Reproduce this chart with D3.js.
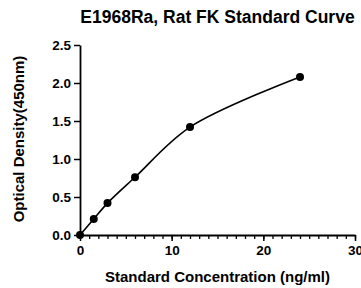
<!DOCTYPE html>
<html>
<head>
<meta charset="utf-8">
<script src="https://cdn.jsdelivr.net/npm/d3@7"></script>
<style>
  body { margin: 0; background: #fff; }
  text { font-family: "Liberation Sans", Arial, sans-serif; font-weight: bold; fill: #000; }
</style>
</head>
<body>
<svg id="chart" width="361" height="288"></svg>
<script>
// Standard curve readings
const concentrations = [0, 1.5, 3, 6, 12, 24];
const densities = [0, 0.21, 0.42, 0.76, 1.42, 2.08];
const xTicks = [0, 10, 20, 30];
const yTicks = [0, 0.5, 1.0, 1.5, 2.0, 2.5];

const svg = d3.select('#chart');
const margin = { top: 45, right: 6, bottom: 53, left: 80 };
const width = 361 - margin.left - margin.right;
const height = 288 - margin.top - margin.bottom;

const data = concentrations.map((c, i) => ({ x: c, y: densities[i] }));

const plot = svg.append('g')
  .attr('transform', `translate(${margin.left}, ${margin.top})`);

// Scales
const xScale = d3.scaleLinear().domain([0, 30]).range([0, width]);
const yScale = d3.scaleLinear().domain([0, 2.5]).range([height, 0]);

// Minor x ticks (every 1 unit)
const xMinor = d3.axisBottom(xScale)
  .tickValues(d3.range(0, 31, 1))
  .tickSize(4)
  .tickFormat('');

const xAxisMinor = plot.append('g')
  .attr('transform', `translate(0, ${height})`)
  .call(xMinor);
xAxisMinor.select('.domain').remove();
xAxisMinor.selectAll('line').attr('stroke', '#000').attr('stroke-width', 1.3);

// Major axes
const xAxis = d3.axisBottom(xScale)
  .tickValues(xTicks)
  .tickSize(6)
  .tickPadding(4)
  .tickSizeOuter(0)
  .tickFormat(d3.format('d'));

const yAxis = d3.axisLeft(yScale)
  .tickValues(yTicks)
  .tickSize(6)
  .tickPadding(3)
  .tickSizeOuter(0)
  .tickFormat(d3.format('.1f'));

const gx = plot.append('g')
  .attr('transform', `translate(0, ${height})`)
  .call(xAxis);

const gy = plot.append('g').call(yAxis);

[gx, gy].forEach(g => {
  g.select('.domain').attr('stroke', '#000').attr('stroke-width', 1.8);
  g.selectAll('.tick line').attr('stroke', '#000').attr('stroke-width', 1.5);
  g.selectAll('.tick text')
    .style('font-family', '"Liberation Sans", Arial, sans-serif')
    .style('font-weight', 'bold')
    .style('font-size', '13.5px')
    .attr('fill', '#000');
});

// Fitted curve
const line = d3.line()
  .x(d => xScale(d.x))
  .y(d => yScale(d.y))
  .curve(d3.curveCatmullRom.alpha(0.5));

plot.append('path')
  .datum(data)
  .attr('fill', 'none')
  .attr('stroke', '#000')
  .attr('stroke-width', 1.6)
  .attr('d', line);

// Points
plot.selectAll('circle')
  .data(data)
  .enter()
  .append('circle')
  .attr('cx', d => xScale(d.x))
  .attr('cy', d => yScale(d.y))
  .attr('r', 4)
  .attr('fill', '#000');

// Title
svg.append('text')
  .attr('x', margin.left + width / 2)
  .attr('y', 23)
  .attr('text-anchor', 'middle')
  .style('font-size', '17.5px')
  .text('E1968Ra, Rat FK Standard Curve');

// Axis labels
svg.append('text')
  .attr('x', margin.left + width / 2)
  .attr('y', 282)
  .attr('text-anchor', 'middle')
  .style('font-size', '15px')
  .text('Standard Concentration (ng/ml)');

svg.append('text')
  .attr('transform', 'rotate(-90)')
  .attr('x', -139)
  .attr('y', 24)
  .attr('text-anchor', 'middle')
  .style('font-size', '15px')
  .text('Optical Density(450nm)');
</script>
</body>
</html>
